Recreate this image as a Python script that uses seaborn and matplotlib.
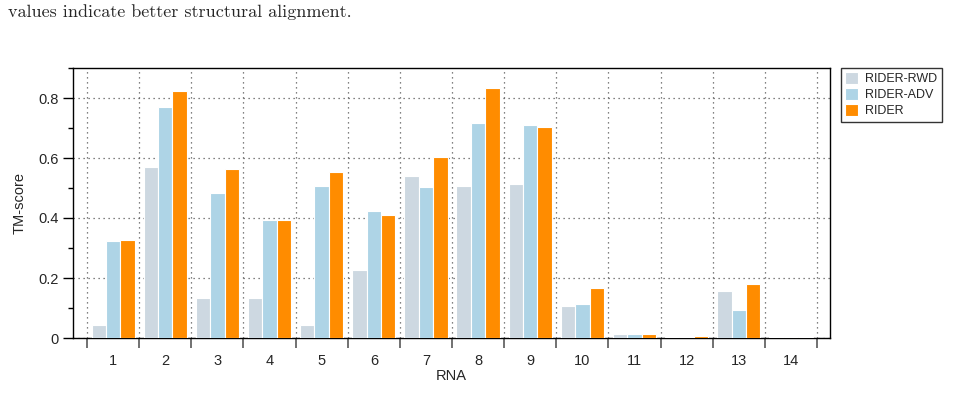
import numpy as np
import pandas as pd
import matplotlib
matplotlib.use('Agg')
import matplotlib.pyplot as plt
from matplotlib.ticker import FixedLocator, FuncFormatter, MultipleLocator
import seaborn as sns

# data
rna_ids = [str(i) for i in range(1, 15)]
methods = ['RIDER-RWD', 'RIDER-ADV', 'RIDER']
rider_rwd = [0.045, 0.569, 0.134, 0.134, 0.043, 0.226, 0.540, 0.507, 0.515, 0.107, 0.012, 0.002, 0.157, 0.002]
rider_adv = [0.325, 0.771, 0.485, 0.393, 0.507, 0.423, 0.503, 0.718, 0.709, 0.114, 0.012, 0.002, 0.094, 0.002]
rider = [0.328, 0.823, 0.564, 0.392, 0.554, 0.409, 0.603, 0.834, 0.703, 0.166, 0.013, 0.008, 0.180, 0.004]
colors = ['#cdd8e1', '#aed4e6', '#ff8c00']

df = pd.DataFrame({
    'RNA': rna_ids * 3,
    'method': [m for m in methods for _ in rna_ids],
    'score': rider_rwd + rider_adv + rider,
})

sns.set_style('white')
plt.rcParams['font.family'] = ['Liberation Sans', 'DejaVu Sans']

fig = plt.figure(figsize=(9.67, 4.16), dpi=100)
ax = fig.add_axes([73 / 967, 1 - 338 / 416, (830 - 73) / 967, (338 - 68) / 416])

sns.barplot(data=df, x='RNA', y='score', hue='method', order=rna_ids, hue_order=methods,
            palette=colors, width=0.83, edgecolor='white', linewidth=0.8,
            saturation=1, errorbar=None, ax=ax, zorder=3)

ax.set_xlim(-0.77, 13.75)
ax.set_ylim(0, 0.9)

# x: major ticks at group boundaries, labels on minor ticks at centres
ax.xaxis.set_major_locator(FixedLocator(np.arange(-0.5, 14, 1)))
ax.xaxis.set_major_formatter(FuncFormatter(lambda v, p: ''))
ax.xaxis.set_minor_locator(FixedLocator(np.arange(14)))
ax.set_xticklabels(rna_ids, minor=True)
ax.tick_params(axis='x', which='major', direction='out', length=7, width=1.2, color='0.35', bottom=True)
ax.tick_params(axis='x', which='minor', length=0, pad=11.5, labelsize=10.5, bottom=True)

ax.yaxis.set_major_locator(MultipleLocator(0.2))
ax.yaxis.set_minor_locator(MultipleLocator(0.1))
ax.yaxis.set_major_formatter(FuncFormatter(lambda v, p: '{:g}'.format(round(v, 2))))
ax.tick_params(axis='y', which='major', direction='out', length=7, width=1, color='black', left=True, labelsize=10.5, pad=3)
ax.tick_params(axis='y', which='minor', direction='out', length=3.6, width=1, color='black', left=True)

ax.grid(True, which='major', axis='both', linestyle=(0, (1, 3)), linewidth=0.9, color='0.35', zorder=0)
ax.set_axisbelow(True)

for s in ax.spines.values():
    s.set_visible(True)
    s.set_color('black')
    s.set_linewidth(1.0)

ax.set_xlabel('RNA', fontsize=10.5, labelpad=1)
ax.set_ylabel('TM-score', fontsize=10.5, labelpad=9)

leg = ax.legend(loc='upper left', bbox_to_anchor=(841 / 967, 1 - 68 / 416), bbox_transform=fig.transFigure,
                borderaxespad=0, fontsize=9, frameon=True, fancybox=False, edgecolor='black',
                handlelength=1.0, handleheight=1.0, handletextpad=0.6, labelspacing=0.25,
                borderpad=0.35, title=None)
leg.get_frame().set_linewidth(1.0)

fig.text(8 / 967, 1 - 12 / 416, 'values indicate better structural alignment.', fontsize=13,
         family=['cmr10', 'DejaVu Serif'], va='center', ha='left')

plt.savefig('out.png', dpi=100)
